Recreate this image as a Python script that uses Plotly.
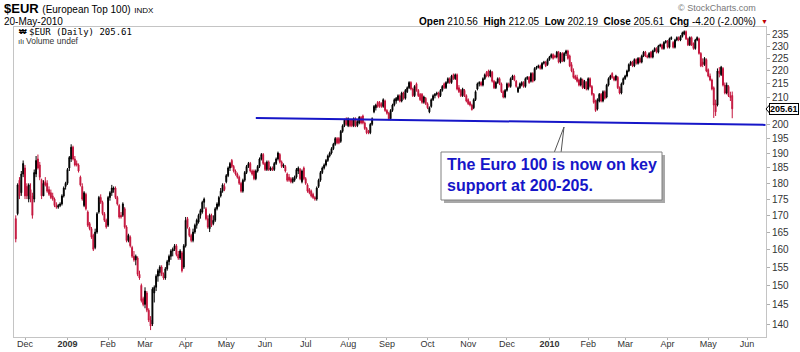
import numpy as np
import pandas as pd
import plotly.graph_objects as go

# ---------------- data ----------------
start_date = "2008-11-24"
end_date = "2010-05-20"

opens = [
    169, 170.5, 181, 177, 183, 185, 179, 175, 178, 176,
    175, 183, 188, 186, 181, 176, 180.5, 180, 178, 177,
    176, 175, 173, 172.5, 173, 173.5, 176, 179, 180, 185,
    188, 192, 188, 186.5, 186, 182, 179, 173, 176.5, 171,
    167.5, 166, 164, 160.5, 165, 171, 175.5, 174, 170.5, 168.5,
    167, 175.5, 177, 178, 178.5, 175.5, 173, 170, 170, 172,
    166.5, 162.5, 163.5, 160.5, 158, 157, 157.5, 153, 150, 146.5,
    145, 148, 143.5, 141, 140, 148, 149.5, 152.5, 153.5, 155,
    153, 152, 154.5, 156.5, 158, 159.5, 160, 161, 158.5, 157.5,
    159, 155, 161, 169, 166, 164, 162.5, 165, 167, 168,
    170, 171, 174, 172, 169, 166, 170, 167.5, 168.5, 172,
    173, 176, 177.5, 179, 180.5, 182.5, 185, 187.5, 185.5, 184,
    183, 182, 180, 177.5, 181, 183.5, 185.5, 186.5, 184, 184,
    181.5, 184, 185.5, 188, 189.5, 186.5, 184.5, 187, 184.3, 185,
    184.5, 186.5, 188, 189.5, 187, 185.5, 185.5, 183, 182, 181.5,
    180.5, 181, 182, 184, 184.5, 180.5, 185, 181.5, 179.5, 178,
    177.5, 176.5, 175.5, 175, 179, 181, 183.5, 185, 186, 187.5,
    189, 190, 191.5, 193, 195, 195, 194, 197.5, 199.5, 202,
    199.5, 201.5, 201.5, 199.5, 202, 199.5, 200.5, 202.5, 203, 200.5,
    198.5, 197.5, 197, 200, 204.5, 206, 208, 208, 207.5, 206.5,
    208.5, 205, 204, 202, 205, 207, 208.5, 209, 210.5, 208.5,
    211.5, 209.5, 212, 213.5, 215.5, 213, 210.5, 215, 212.5, 211,
    211, 208, 209.5, 207.5, 204.5, 206.5, 209, 210.5, 211, 211.5,
    210.5, 212.5, 215, 213.5, 215.5, 217, 215.5, 218.5, 217, 218.5,
    213.5, 212.5, 210.5, 212.5, 210.5, 209, 208, 207, 206, 209,
    213, 215, 215.5, 214.5, 217, 219.5, 220, 218, 219.5, 216,
    213.5, 215.5, 217, 215, 212, 210, 212.5, 215, 214, 217,
    218, 216, 212, 213.5, 214.5, 215.5, 214, 217, 217.5, 216,
    219, 216.5, 221, 221.5, 222, 221, 223, 223.5, 222.5, 224.5,
    225.5, 226.5, 226, 225.5, 227.5, 223.5, 227, 224, 227, 228,
    226, 222.5, 220, 218, 217.5, 216.5, 214.5, 216.5, 213.5, 215.5,
    213, 217, 214, 211, 208.5, 205.5, 208.5, 211, 208.5, 212,
    210, 214.5, 217, 219, 217.5, 216.5, 217.5, 213.5, 211.5, 215,
    217, 218, 220, 222.5, 223.5, 222, 224.5, 223, 225, 223.5,
    226, 227.5, 226, 225.5, 227.5, 225.5, 228, 229, 227.5, 230,
    230.5, 229, 231.5, 232, 229.5, 233, 231.5, 229.5, 232.5, 233.5,
    232.5, 234, 235, 236, 233, 230.5, 233.5, 231, 229, 232.5,
    233, 227, 223.5, 222.5, 224.5, 220.5, 218, 216.5, 213.5, 207.5,
    207, 220, 218.5, 221, 214.5, 211.5, 214, 210.5, 210.56,
]

highs = [
    170, 180, 182, 184, 187.5, 186, 180, 180, 180, 177,
    184.5, 189, 189.5, 187, 181.5, 181, 182, 181, 179, 178,
    177, 175.5, 174, 173.5, 174, 176.5, 179, 180.5, 185, 189,
    193, 192.5, 189, 187.5, 186.5, 182.5, 180, 177.5, 177, 171.5,
    168, 166.5, 164.5, 166, 171, 176, 176.5, 174.5, 171, 169,
    176, 177.5, 179.5, 179, 179, 176, 173.5, 171, 174, 172.5,
    167, 164.5, 164, 161, 159.5, 158.5, 158, 154, 150.5, 147,
    149.5, 148.5, 144, 142, 149.5, 150, 153, 154.5, 155.5, 155.5,
    153.5, 155, 157, 158.5, 160, 160.5, 161.5, 161.5, 159.5, 160,
    159.5, 161.5, 169.5, 169.5, 166.5, 164.5, 166, 167.5, 169, 170.5,
    172, 174.5, 175.5, 172.5, 170, 170.5, 170.5, 170, 172.5, 174,
    176, 178.5, 180, 180, 183, 185.5, 187, 188, 186, 184.5,
    183.5, 182.5, 180.5, 181.5, 184, 186, 187, 187, 184.5, 184.5,
    184.5, 186, 188.5, 190, 190, 187, 187.5, 187.5, 185.5, 185.5,
    187, 188.5, 190.5, 190, 187.5, 186.5, 186, 183.5, 183, 182,
    182, 182.5, 185, 185.5, 185, 184.5, 185.5, 182, 180, 178.5,
    178, 177, 176, 179, 181.5, 184, 185.5, 186.5, 188, 189.5,
    190.5, 192, 193.5, 195.5, 195.5, 195.5, 198, 200, 202, 202.5,
    202.5, 202, 202, 202.5, 202.5, 201.5, 203, 203, 203.5, 201,
    199, 198, 200.5, 202.5, 207, 207.5, 208.5, 208.5, 208, 209.5,
    209, 205.5, 204.5, 205.5, 207.5, 209.5, 210, 211, 211, 212,
    212, 213, 214, 216, 216, 213.5, 214.5, 215.5, 213, 211.5,
    211.5, 210.5, 210, 208, 206.5, 209.5, 211, 211.5, 212, 212,
    213, 214.5, 215.5, 216, 217.5, 217.5, 218.5, 219, 219, 219,
    214.5, 213, 213.5, 213, 211, 209.5, 208.5, 207.5, 209.5, 212.5,
    215.5, 216, 216, 217.5, 219, 220, 220.5, 220.5, 220, 216.5,
    216, 217.5, 217.5, 215.5, 212.5, 213, 215.5, 215.5, 217.5, 218.5,
    218.5, 216.5, 214, 215.5, 216, 216, 217.5, 218, 218, 219.5,
    219.5, 221.5, 222, 222.5, 222.5, 223.5, 224, 224, 225, 226,
    227, 227, 226.5, 228, 228, 227.5, 227.5, 227.5, 228.5, 228.5,
    226.5, 223.5, 221, 218.5, 218.5, 217, 217.5, 217, 216.5, 216,
    217.5, 217.5, 214.5, 211.5, 209, 209.5, 211.5, 211.5, 212.5, 212.5,
    215, 217.5, 218.5, 219.5, 218, 218.5, 218, 214, 215.5, 217.5,
    218.5, 220.5, 223, 224, 224, 225, 225, 225.5, 225.5, 226.5,
    228, 228, 226.5, 227.5, 228, 228.5, 229.5, 229.5, 230.5, 231,
    231, 232, 232.5, 232.5, 233.5, 234, 232, 233, 234, 234,
    234.5, 236, 236.5, 236.5, 233.5, 234, 234, 231.5, 233, 234,
    233.5, 227.5, 225, 225.5, 225, 221, 219, 217, 214, 209,
    221, 221.5, 222, 221.5, 215.5, 215.5, 214.5, 212, 212.05,
]

lows = [
    162, 170, 175, 176, 182, 175, 175, 174, 174, 169,
    174, 182, 184.5, 181, 175, 176, 179, 177, 176, 175,
    174.5, 172.5, 172, 172, 172.5, 173, 175.5, 178, 179.5, 184,
    187, 187.5, 185.5, 185.5, 183.5, 179, 174.5, 172.5, 171.5, 166.5,
    165.5, 163, 159.5, 160, 164.5, 170.5, 173.5, 170, 168, 166,
    166.5, 174.5, 176, 177, 175, 173, 169, 169, 169.5, 166,
    162, 162, 160.5, 157.5, 156.5, 155.5, 152.5, 151.5, 145.5, 144.5,
    144, 143, 140.5, 138.5, 139.5, 145.5, 148.5, 151, 152.5, 152.5,
    151.5, 151.5, 154, 155.5, 157, 158, 159.5, 158, 157, 157,
    153.5, 154.5, 160.5, 166, 163.5, 162, 162, 164.5, 166, 167.5,
    169, 170.5, 172, 168.5, 166, 165, 166.5, 167, 168, 171.5,
    172.5, 175.5, 177, 177.5, 180, 182, 184, 185, 183.5, 182.5,
    181.5, 179.5, 177, 177, 180.5, 183, 185, 183.5, 182.5, 181,
    181, 183.5, 185, 187.5, 186, 184, 184, 184, 184, 184,
    184, 186, 187.5, 186.5, 185, 185, 183.5, 180.5, 180.5, 180,
    180, 180.5, 181.5, 183, 181, 180, 181, 179.5, 177, 176.5,
    175.5, 175, 174.5, 174.5, 178.5, 180.5, 183, 184.5, 185.5, 187,
    188.5, 189.5, 191, 192.5, 193, 193, 193.5, 197, 199, 199.5,
    199, 199, 199, 199, 199, 199, 200, 200, 200, 198,
    196.5, 196.5, 196.5, 199.5, 204, 205, 206, 206, 206, 206,
    204.5, 203.5, 201.5, 201.5, 204.5, 206.5, 207.5, 208.5, 208, 208,
    209, 209, 211.5, 213, 212.5, 210, 210, 212, 210, 208.5,
    207.5, 207.5, 207, 205.5, 204, 206, 208.5, 209.5, 210.5, 209.5,
    210, 212, 213, 213, 215, 215, 215, 216.5, 216.5, 212.5,
    211.5, 210, 210, 210, 208, 207, 206.5, 205, 205.5, 208.5,
    212.5, 214, 214, 214, 216.5, 217.5, 217.5, 217.5, 215.5, 213,
    213, 215, 214.5, 211.5, 209.5, 209.5, 212, 213.5, 213.5, 216.5,
    216, 213.5, 211.5, 213, 214, 213.5, 213.5, 216.5, 215, 215.5,
    215.5, 216, 220.5, 221, 220.5, 220.5, 222.5, 221.5, 222, 224,
    225, 224.5, 225, 225, 223, 223, 223.5, 223.5, 226, 224.5,
    221.5, 219.5, 217, 216.5, 215.5, 214, 214, 213, 213, 212.5,
    212.5, 213.5, 210.5, 207.5, 204.5, 205, 208, 208, 208, 209,
    209.5, 214, 216.5, 217, 216, 216, 213, 211, 211, 214.5,
    216.5, 217.5, 219.5, 222, 221.5, 221.5, 222.5, 222.5, 223, 223,
    225.5, 225.5, 225, 225, 225, 225, 227.5, 227, 227, 229.5,
    228.5, 228.5, 231, 229, 229, 232.5, 229, 229, 232, 232,
    232, 233.5, 234.5, 232.5, 230, 230, 230, 228.5, 228.5, 232,
    226.5, 221.5, 221.5, 222, 219.5, 217.5, 216, 212.5, 202.3, 203,
    206.5, 217.5, 218, 214, 211, 211, 210, 208.5, 202.19,
]

closes = [
    163, 179.5, 176, 183, 186.5, 176, 176, 179.5, 176, 170,
    183.5, 187.5, 185, 182, 176, 180, 179.5, 177.5, 176.5, 175.5,
    175, 173, 172.5, 173, 173.5, 176, 178.5, 180, 184.5, 188.5,
    192, 188, 186, 186, 184, 179.5, 175, 177, 172, 167,
    166, 163.5, 160, 165, 170.5, 175.5, 174, 170.5, 168.5, 166.5,
    175.5, 177, 178.5, 178.5, 175.5, 173.5, 169.5, 169.5, 173.5, 166.5,
    162.5, 164, 161, 158, 157, 158, 153, 152, 146, 145,
    148.5, 143.5, 141, 139.5, 149, 149.5, 152.5, 154, 155, 153,
    152, 154.5, 156.5, 158, 159.5, 160, 161, 158.5, 157.5, 159.5,
    154, 161, 168.5, 166.5, 164, 162.5, 165, 167, 168.5, 170,
    171.5, 174, 175, 169, 166.5, 170, 167, 168.5, 172, 173.5,
    175.5, 177.5, 179.5, 178, 182.5, 185, 186.5, 185.5, 184, 183,
    182, 180, 177.5, 181, 183.5, 185.5, 186.5, 184, 183, 181.5,
    184, 185.5, 188, 189.5, 186.5, 184.5, 187, 184.5, 185, 184.3,
    186.5, 188, 190, 187, 185.5, 186, 184, 181, 181, 180.5,
    181.5, 182, 184.5, 185, 181.5, 184, 181.5, 180, 177.5, 177,
    176, 175.5, 175, 178.5, 181, 183.5, 185, 186, 187.5, 189,
    190, 191.5, 193, 195, 193.5, 193.5, 197.5, 199.5, 201.5, 200,
    202, 199.5, 199.5, 202, 199.5, 201, 202.5, 200.5, 200.5, 198.5,
    197, 197, 200, 202, 206.5, 207, 206.5, 206.5, 206.5, 209,
    205, 204, 202, 205, 207, 209, 209.5, 210.5, 208.5, 211.5,
    209.5, 212.5, 213.5, 215.5, 213, 210.5, 214, 212.5, 210.5, 209,
    208, 210, 207.5, 206, 206, 209, 210.5, 211, 211.5, 210,
    212.5, 214, 213.5, 215.5, 217, 215.5, 218, 217, 218.5, 213,
    212, 210.5, 213, 210.5, 208.5, 207.5, 207, 205.3, 209, 212,
    215, 215.5, 214.5, 217, 218.5, 218, 218, 220, 216, 213.5,
    215.5, 217, 215, 212, 210, 212.5, 215, 214, 217, 218,
    216.5, 214, 213.5, 215, 215.5, 214, 217, 217.5, 215.5, 219,
    216, 221, 221.5, 222, 221, 223, 223.5, 222, 224.5, 225.5,
    226.5, 225, 225.5, 227.5, 223.5, 227, 224, 227, 228, 225,
    222, 220, 217.5, 217, 216, 214.5, 217, 213.5, 216, 213,
    217, 214, 211, 208, 205, 209, 211, 208.5, 212, 209.5,
    214.5, 217, 218, 217.5, 216.5, 218, 213.5, 211.5, 215, 217,
    218, 220, 222.5, 223.5, 222, 224.5, 223, 225, 223.5, 226,
    227.5, 226, 225.5, 227, 225.5, 228, 229, 227.5, 230, 230.5,
    229, 231.5, 232, 229.5, 233, 233.5, 229.5, 232.5, 233.5, 232.5,
    234, 235.5, 236, 233, 230.5, 233.5, 230.5, 229, 232.5, 233.5,
    227, 222, 222.5, 225, 220, 218, 216.5, 213, 207, 204.5,
    220, 219, 221.5, 214.5, 211.5, 214.5, 210.5, 209.81, 205.61,
]

month_starts = ["2008-12-01", "2009-01-01", "2009-02-01", "2009-03-01", "2009-04-01",
                "2009-05-01", "2009-06-01", "2009-07-01", "2009-08-01", "2009-09-01",
                "2009-10-01", "2009-11-01", "2009-12-01", "2010-01-01", "2010-02-01",
                "2010-03-01", "2010-04-01", "2010-05-01", "2010-06-01"]
month_labels = ["Dec", "<b>2009</b>", "Feb", "Mar", "Apr", "May", "Jun", "Jul", "Aug", "Sep",
                "Oct", "Nov", "Dec", "<b>2010</b>", "Feb", "Mar", "Apr", "May", "Jun"]

y_tick_values = [140, 145, 150, 155, 160, 165, 170, 175, 180, 185, 190, 195, 200,
                 210, 215, 220, 225, 230, 235]
y_range = [136.8, 237.96]

support_dates = ["2009-05-25", "2010-06-15"]
support_values = [202.3, 199.8]

last_close = 205.61
note_text = "The Euro 100 is now on key<br>support at 200-205."

# ---------------- figure ----------------
dates = pd.bdate_range(start_date, end_date)
assert len(dates) == len(opens) == len(highs) == len(lows) == len(closes), (
    len(dates), len(opens), len(highs), len(lows), len(closes))
calendar = pd.bdate_range(start_date, "2010-06-30")


def pos(d):
    return int(calendar.searchsorted(pd.Timestamp(d)))


x_idx = np.arange(len(dates))
tick_pos = [pos(d) for d in month_starts]

W, H = 800, 352
L, R, T, B = 14, 766, 27, 337


def px(x):
    return (x - L) / (R - L)


def py(y):
    return (B - y) / (B - T)


# x-range so that the first and last month ticks fall where the reference has them
k = (tick_pos[-1] - tick_pos[0]) / (747 - 25)
x_range = [tick_pos[0] - (25 - L) * k, tick_pos[-1] + (R - 747) * k]

RED = "#C4143C"
BLUE = "#1616C8"

fig = go.Figure()
fig.add_trace(go.Candlestick(
    x=x_idx, open=opens, high=highs, low=lows, close=closes,
    increasing=dict(line=dict(color="#000000", width=1), fillcolor="#000000"),
    decreasing=dict(line=dict(color=RED, width=1), fillcolor=RED),
    whiskerwidth=0, hoverinfo="skip", showlegend=False,
))
fig.add_trace(go.Scatter(
    x=[pos(d) for d in support_dates], y=support_values, mode="lines",
    line=dict(color=BLUE, width=2), hoverinfo="skip", showlegend=False,
))

shapes = [
    # shadow of the note box
    dict(type="rect", xref="paper", yref="paper", x0=px(444), x1=px(665), y0=py(203), y1=py(155),
         fillcolor="#a8a8a8", line=dict(width=0), layer="above"),
    # callout pointer
    dict(type="path", xref="paper", yref="paper",
         path=f"M {px(554)},{py(153)} L {px(564)},{py(127)} L {px(561)},{py(153)} Z",
         fillcolor="#ffffff", line=dict(color="#555555", width=1), layer="above"),
    # note box
    dict(type="rect", xref="paper", yref="paper", x0=px(441), x1=px(662), y0=py(200), y1=py(152),
         fillcolor="#ffffff", line=dict(color="#808080", width=1), layer="above"),
    # pointer of the last-price label
    dict(type="path", xref="paper", yref="paper",
         path=f"M {px(766)},{py(109)} L {px(769.5)},{py(105)} L {px(769.5)},{py(113)} Z",
         fillcolor="#ffffff", line=dict(color="#000000", width=1), layer="above"),
]

ann = []
ann.append(dict(xref="paper", yref="paper", x=px(2), y=py(8), xanchor="left", yanchor="middle",
                text="<b>$EUR</b> <span style='font-size:10px'>(European Top 100)</span> "
                     "<span style='font-size:8px'>INDX</span>",
                showarrow=False, font=dict(family="Arial", size=13, color="#000")))
ann.append(dict(xref="paper", yref="paper", x=px(2), y=py(21.5), xanchor="left", yanchor="middle",
                text="20-May-2010", showarrow=False, font=dict(family="Arial", size=10, color="#000")))
ann.append(dict(xref="paper", yref="paper", x=px(758), y=py(8), xanchor="right", yanchor="middle",
                text="© StockCharts.com", showarrow=False,
                font=dict(family="Arial", size=9, color="#777")))
ohlc = ("<b>Open</b> 210.56  <b>High</b> 212.05  <b>Low</b> 202.19  "
        "<b>Close</b> 205.61  <b>Chg</b> -4.20 (-2.00%)")
ann.append(dict(xref="paper", yref="paper", x=px(758), y=py(21), xanchor="right", yanchor="middle",
                text=ohlc, showarrow=False, font=dict(family="Arial", size=10, color="#000")))
ann.append(dict(xref="paper", yref="paper", x=px(759), y=py(21), xanchor="left", yanchor="middle",
                text="▼", showarrow=False, font=dict(family="Arial", size=7, color="#c00000")))
ann.append(dict(xref="paper", yref="paper", x=px(17), y=py(32), xanchor="left", yanchor="middle",
                text="<b>₩</b>", showarrow=False, font=dict(family="Arial", size=8, color="#000")))
ann.append(dict(xref="paper", yref="paper", x=px(27), y=py(32), xanchor="left", yanchor="middle",
                text="$EUR (Daily) 205.61", showarrow=False,
                font=dict(family="DejaVu Sans Mono", size=9, color="#000")))
ann.append(dict(xref="paper", yref="paper", x=px(16), y=py(41), xanchor="left", yanchor="middle",
                text="ılı", showarrow=False, font=dict(family="Arial", size=8, color="#333")))
ann.append(dict(xref="paper", yref="paper", x=px(24), y=py(41), xanchor="left", yanchor="middle",
                text="Volume undef", showarrow=False, font=dict(family="Arial", size=8.5, color="#333")))
ann.append(dict(xref="paper", yref="paper", x=px(445), y=py(175), xanchor="left", yanchor="middle",
                text=f"<b>{note_text}</b>", align="left", showarrow=False,
                font=dict(family="Arial", size=16, color=BLUE)))
ann.append(dict(xref="paper", yref="y", x=1, xshift=3, y=np.log10(last_close), xanchor="left",
                yanchor="middle", text=f"<b>{last_close:.2f}</b>", showarrow=False,
                bgcolor="#ffffff", bordercolor="#000000", borderwidth=1, borderpad=0,
                font=dict(family="Arial", size=9, color="#000")))

fig.update_layout(
    width=W, height=H,
    margin=dict(l=L, r=W - R, t=T, b=H - B, pad=0),
    paper_bgcolor="#ffffff", plot_bgcolor="#ffffff",
    showlegend=False,
    shapes=shapes, annotations=ann,
    xaxis=dict(range=x_range, tickmode="array", tickvals=tick_pos, ticktext=month_labels,
               showgrid=False, zeroline=False, showline=True, mirror=True,
               linecolor="#c4c4c4", linewidth=1, ticks="outside", ticklen=2, tickcolor="#b0b0b0",
               ticklabelstandoff=-4,
               tickfont=dict(family="Arial", size=9, color="#333"),
               rangeslider=dict(visible=False), automargin=False, fixedrange=True),
    yaxis=dict(type="log", range=[np.log10(y_range[0]), np.log10(y_range[1])], side="right",
               tickmode="array", tickvals=y_tick_values, ticktext=[str(v) for v in y_tick_values],
               showgrid=False, zeroline=False, showline=True, mirror=True,
               linecolor="#c4c4c4", linewidth=1, ticks="outside", ticklen=3, tickcolor="#b0b0b0",
               tickfont=dict(family="Arial", size=10, color="#333"), automargin=False,
               fixedrange=True),
)

fig.write_html("out.html")
